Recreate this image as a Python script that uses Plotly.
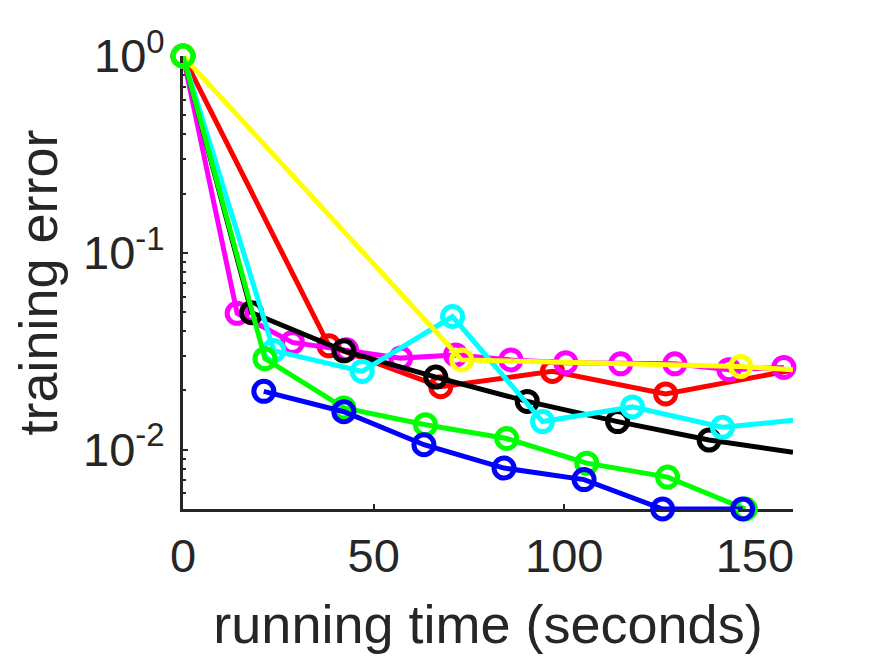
import math

import plotly.graph_objects as go

# values (log y axis)
red_x = [0, 38.3, 67.6, 96.9, 126.6]
red_y = [1.0, 0.0337, 0.0209, 0.0250, 0.0192]
red_edge = 0.0254

magenta_x = [0, 14.2, 28.7, 42.9, 57.1, 71.5, 86.0, 100.4, 114.8, 129.0, 143.2, 157.6]
magenta_y = [1.0, 0.0493, 0.0351, 0.0322, 0.0292, 0.0303, 0.0286, 0.0277, 0.0273, 0.0273, 0.0255, 0.0262]

black_x = [0, 18.0, 42.2, 66.3, 90.3, 114.0, 138.0]
black_y = [1.0, 0.0497, 0.0318, 0.0234, 0.0176, 0.0139, 0.0112]
black_edge = 0.0097

cyan_x = [0, 23.8, 47.0, 70.7, 94.3, 117.9, 141.5]
cyan_y = [1.0, 0.0319, 0.0250, 0.0475, 0.0139, 0.0165, 0.0130]
cyan_edge = 0.0141

yellow_x = [0, 73.1, 146.3]
yellow_y = [1.0, 0.0286, 0.0265]
yellow_edge = 0.0255

green_x = [0, 21.5, 42.2, 63.6, 84.9, 105.9, 127.1, 147.5]
green_y = [1.0, 0.0290, 0.0163, 0.0134, 0.0114, 0.00855, 0.00726, 0.0050]

blue_x = [21.2, 42.2, 63.2, 84.2, 105.2, 125.8, 146.8]
blue_y = [0.0198, 0.0156, 0.0106, 0.00807, 0.00705, 0.0050, 0.0050]

x_max = 160
y_min = 0.005

x_ticks = [0, 50, 100, 150]
y_ticks = [1, 0.1, 0.01]
y_tick_text = ["10<sup>0</sup>", "10<sup>-1</sup>", "10<sup>-2</sup>"]

# drawing order matters: later series sit on top
series = [
    ("#ff0000", red_x, red_y, red_edge),
    ("#ff00ff", magenta_x, magenta_y, None),
    ("#000000", black_x, black_y, black_edge),
    ("#00ffff", cyan_x, cyan_y, cyan_edge),
    ("#ffff00", yellow_x, yellow_y, yellow_edge),
    ("#00ff00", green_x, green_y, None),
    ("#0000ff", blue_x, blue_y, None),
]

FONT = "Liberation Sans, Arial, Helvetica, sans-serif"
AXIS = "#262626"

fig = go.Figure()
for color, xs, ys, edge in series:
    lx, ly = list(xs), list(ys)
    if edge is not None:
        lx.append(x_max)
        ly.append(edge)
    fig.add_trace(go.Scatter(x=lx, y=ly, mode="lines",
                             line=dict(color=color, width=5), hoverinfo="skip"))
    fig.add_trace(go.Scatter(x=xs, y=ys, mode="markers", cliponaxis=False,
                             marker=dict(symbol="circle-open", size=20, color=color,
                                         line=dict(width=5, color=color))))

minor_vals = []
for dec in (-3, -2, -1):
    for k in range(2, 10):
        v = k * 10 ** dec
        if v >= y_min:
            minor_vals.append(v)

# the page body adds an 8px offset, margins are set to make up for it
fig.update_layout(
    width=875, height=656,
    margin=dict(l=175, r=90, t=48, b=155, autoexpand=False),
    paper_bgcolor="white", plot_bgcolor="white",
    showlegend=False,
    font=dict(family=FONT, color=AXIS),
    xaxis=dict(
        range=[0, x_max], showgrid=False, zeroline=False,
        showline=True, linecolor=AXIS, linewidth=3,
        ticks="inside", ticklen=5, tickwidth=2, tickcolor=AXIS,
        tickvals=x_ticks, tickfont=dict(size=47, color=AXIS),
        ticklabelstandoff=4,
        title=dict(text="running time (seconds)", font=dict(size=54, color=AXIS), standoff=24),
        layer="below traces",
    ),
    yaxis=dict(
        type="log", range=[math.log10(y_min), 0], showgrid=False, zeroline=False,
        showline=True, linecolor=AXIS, linewidth=3,
        ticks="inside", ticklen=5, tickwidth=2, tickcolor=AXIS,
        tickvals=y_ticks, ticktext=y_tick_text, tickfont=dict(size=47, color=AXIS),
        ticklabelstandoff=6,
        minor=dict(tickvals=minor_vals, ticks="inside", ticklen=3, tickwidth=2, tickcolor=AXIS),
        title=dict(text="training error", font=dict(size=54, color=AXIS), standoff=14),
        layer="below traces",
    ),
)

fig.write_html("out.html")
